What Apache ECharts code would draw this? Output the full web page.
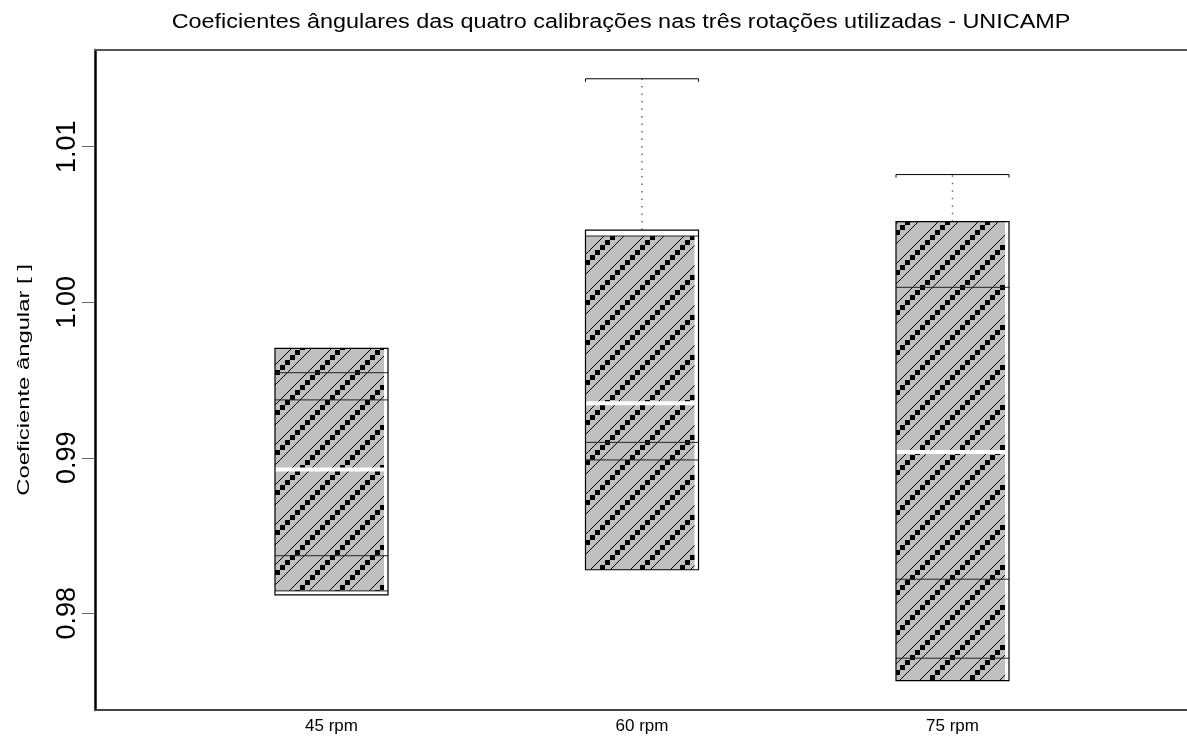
<!DOCTYPE html>
<html>
<head>
<meta charset="utf-8">
<script src="https://cdn.jsdelivr.net/npm/echarts@6/dist/echarts.min.js"></script>
<style>
html,body{margin:0;padding:0;background:#fff;}
#chart{width:1187px;height:740px;}
</style>
</head>
<body>
<div id="chart"></div>
<script>
// ---- data ----
const categories = ['45 rpm', '60 rpm', '75 rpm'];
const boxLow     = [0.98118, 0.98280, 0.97567];
const boxHigh    = [0.99704, 1.00464, 1.00518];
const hatchLow   = [0.98144, 0.98280, 0.97567];
const hatchHigh  = [0.99704, 1.00426, 1.00518];
const medians    = [0.98924, 0.99350, 0.99037];
const whiskerHigh = [null, 1.01437, 1.00821];
const calibLines = [
  [0.99547, 0.99372, 0.98370, 0.98144],
  [1.00426, 0.99099, 0.98986],
  [1.00096, 0.98219, 0.97711]
];
const yTicks = [0.98, 0.99, 1.00, 1.01];
const xPositions = [1, 2, 3];
const titleText = 'Coeficientes ângulares das quatro calibrações nas três rotações utilizadas - UNICAMP';
const yTitleText = 'Coeficiente ângular [ ]';

// ---- hatch pattern tile ----
const tile = document.createElement('canvas');
tile.width = 40; tile.height = 40;
const g = tile.getContext('2d');
g.fillStyle = '#c0c0c0';
g.fillRect(0, 0, 40, 40);
g.strokeStyle = '#000';
g.lineWidth = 1;
[0, 20, 40, 60, 80].forEach(c => {
  g.beginPath(); g.moveTo(c + 1, -1); g.lineTo(-1, c + 1); g.stroke();
});
g.fillStyle = '#000';
[-30, 10, 50, 90].forEach(c => {
  for (let y = 2.5; y < 45; y += 5) {
    const x = c - y;
    g.fillRect(Math.round(x - 2.5), Math.round(y - 2.5), 5, 5);
  }
});

const FONT = "'Liberation Sans', Arial, sans-serif";
const chart = echarts.init(document.getElementById('chart'));
const HW = 0.182;

const seriesData = xPositions.map((x, i) => [x, boxLow[i], boxHigh[i], hatchLow[i], hatchHigh[i], medians[i], whiskerHigh[i] == null ? NaN : whiskerHigh[i]]);

function renderItem(params, api) {
  const i = params.dataIndex;
  const x = api.value(0);
  const xl = api.coord([x - HW, 0])[0];
  const xr = api.coord([x + HW, 0])[0];
  const xc = api.coord([x, 0])[0];
  const yB = api.coord([x, api.value(1)])[1];
  const yT = api.coord([x, api.value(2)])[1];
  const yHB = api.coord([x, api.value(3)])[1];
  const yHT = api.coord([x, api.value(4)])[1];
  const yMed = api.coord([x, api.value(5)])[1];
  const wh = api.value(6);
  const children = [];
  if (!isNaN(wh)) {
    const yW = api.coord([x, wh])[1];
    children.push({type: 'line', shape: {x1: xc, y1: yT, x2: xc, y2: yW},
      style: {stroke: '#666', lineWidth: 1.5, lineDash: [1.5, 6]}});
    children.push({type: 'polyline', shape: {points: [[xl, yW + 3], [xl, yW], [xr, yW], [xr, yW + 3]]},
      style: {stroke: '#000', lineWidth: 1, fill: null}});
  }
  children.push({type: 'rect', shape: {x: xl, y: yT, width: xr - xl, height: yB - yT},
    style: {fill: '#fff', stroke: null}});
  children.push({type: 'rect', shape: {x: xl, y: yHT, width: xr - xl - 4, height: yHB - yHT},
    style: {fill: {image: tile, repeat: 'repeat'}, stroke: null}});
  children.push({type: 'line', shape: {x1: xl, y1: yMed, x2: xr - 4, y2: yMed},
    style: {stroke: '#fff', lineWidth: 4}});
  calibLines[i].forEach(v => {
    const yy = api.coord([x, v])[1];
    children.push({type: 'line', shape: {x1: xl, y1: yy, x2: xr, y2: yy},
      style: {stroke: '#222', lineWidth: 1}});
  });
  children.push({type: 'rect', shape: {x: xl, y: yT, width: xr - xl, height: yB - yT},
    style: {fill: null, stroke: '#000', lineWidth: 1.2}});
  return {type: 'group', children};
}

chart.setOption({
  animation: false,
  backgroundColor: '#fff',
  graphic: [{
    type: 'text',
    x: 621, y: 22,
    scaleX: 1.17, scaleY: 1,
    style: {
      text: titleText,
      fontFamily: FONT, fontSize: 20, fill: '#000',
      align: 'center', verticalAlign: 'middle'
    }
  }, {
    type: 'text',
    x: 24, y: 380,
    rotation: Math.PI / 2,
    scaleX: 1.4, scaleY: 1,
    style: {
      text: yTitleText,
      fontFamily: FONT, fontSize: 17, fill: '#000',
      align: 'center', verticalAlign: 'middle'
    }
  }],
  grid: {left: 95, right: 0, top: 50, bottom: 30},
  xAxis: [{
    type: 'value', min: 0.23833, max: 3.75523,
    splitLine: {show: false},
    axisLine: {show: true, onZero: false, lineStyle: {color: '#444', width: 2}},
    axisTick: {show: false},
    axisLabel: {
      customValues: xPositions,
      formatter: v => categories[Math.round(v) - 1] || '',
      fontFamily: FONT, fontSize: 17, color: '#000', margin: 8
    }
  }, {
    type: 'value', position: 'top', min: 0.23833, max: 3.75523,
    splitLine: {show: false},
    axisLine: {show: true, onZero: false, lineStyle: {color: '#555', width: 2}},
    axisTick: {show: false}, axisLabel: {show: false}
  }],
  yAxis: {
    type: 'value', min: 0.97378, max: 1.01622,
    splitLine: {show: false},
    axisLine: {show: true, lineStyle: {color: '#000', width: 2.5}},
    axisTick: {show: true, customValues: yTicks, length: 13, lineStyle: {color: '#666', width: 1}},
    axisLabel: {
      customValues: yTicks, rotate: 90,
      formatter: v => v.toFixed(2),
      fontFamily: FONT, fontSize: 27, color: '#000', margin: 14
    }
  },
  series: [{
    type: 'custom',
    renderItem: renderItem,
    data: seriesData,
    encode: {x: 0, y: [1, 2]},
    clip: false
  }]
});
</script>
</body>
</html>
